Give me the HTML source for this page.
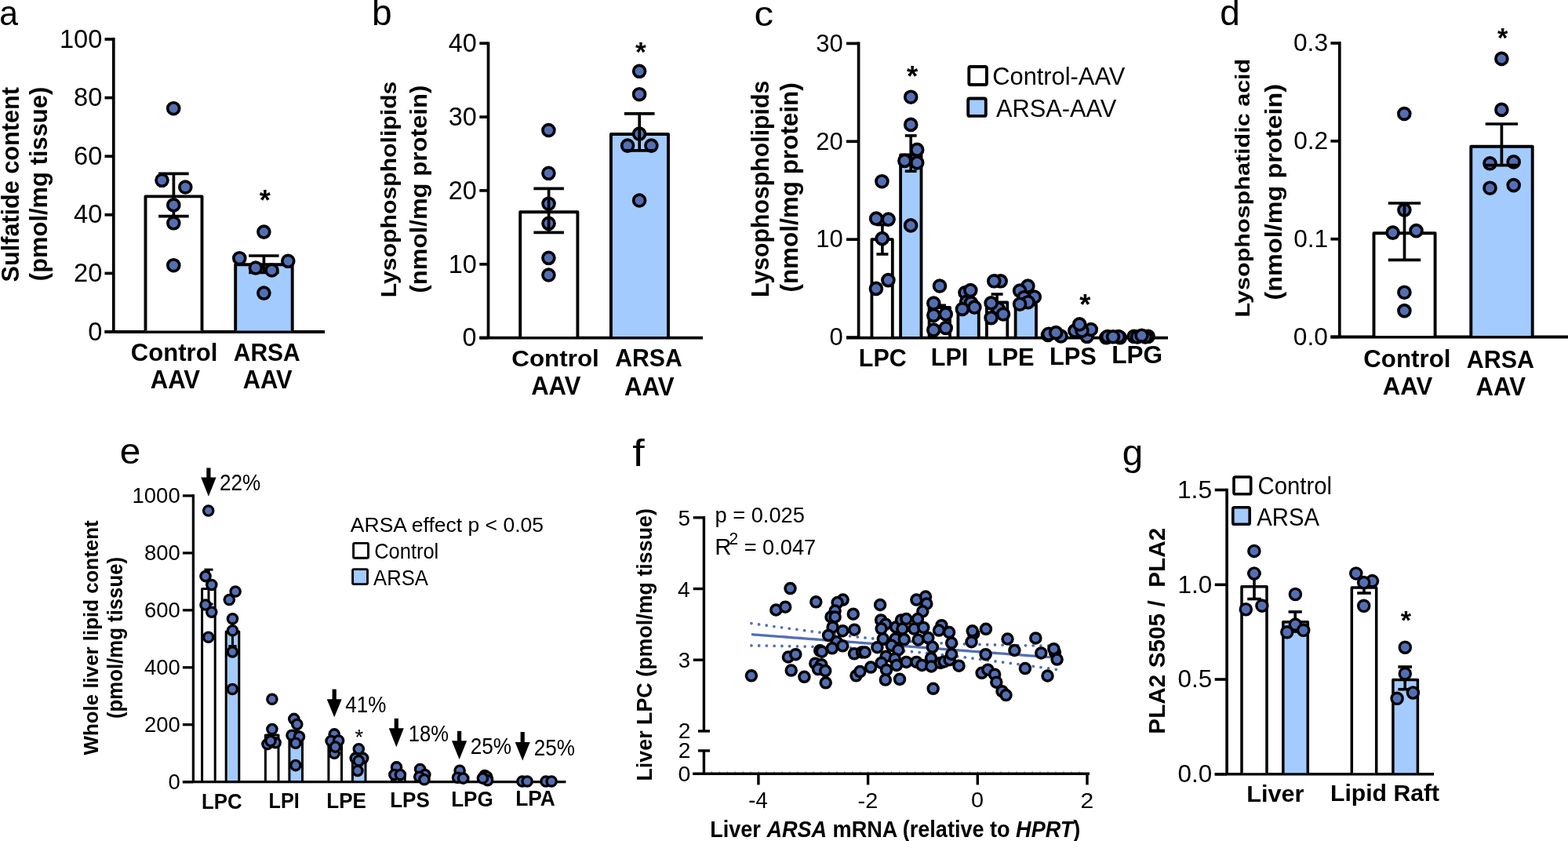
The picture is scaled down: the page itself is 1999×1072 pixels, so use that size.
<!DOCTYPE html>
<html><head><meta charset="utf-8"><title>Figure</title>
<style>
html,body{margin:0;padding:0;background:#fff;}
svg{display:block;}
text{font-family:"Liberation Sans", sans-serif;fill:#000;}
</style></head>
<body>
<svg width="1999" height="1072" viewBox="0 0 1999 1072">
<rect x="0" y="0" width="1999" height="1072" fill="#fff"/>
<text x="-0.82" y="32.25" font-size="45.27" textLength="23.77" lengthAdjust="spacingAndGlyphs">a</text>
<line x1="144.8" y1="48.1" x2="144.8" y2="423.0" stroke="#000" stroke-width="3.7" stroke-linecap="butt"/>
<line x1="133.5" y1="423.0" x2="144.8" y2="423.0" stroke="#000" stroke-width="3.7" stroke-linecap="butt"/>
<text x="112.17" y="433.67" font-size="32.68">0</text>
<line x1="133.5" y1="348.4" x2="144.8" y2="348.4" stroke="#000" stroke-width="3.7" stroke-linecap="butt"/>
<text x="94.04" y="359.07" font-size="32.68">20</text>
<line x1="133.5" y1="273.8" x2="144.8" y2="273.8" stroke="#000" stroke-width="3.7" stroke-linecap="butt"/>
<text x="94.04" y="284.47" font-size="32.68">40</text>
<line x1="133.5" y1="199.2" x2="144.8" y2="199.2" stroke="#000" stroke-width="3.7" stroke-linecap="butt"/>
<text x="94.04" y="209.87" font-size="32.68">60</text>
<line x1="133.5" y1="124.6" x2="144.8" y2="124.6" stroke="#000" stroke-width="3.7" stroke-linecap="butt"/>
<text x="94.04" y="135.27" font-size="32.68">80</text>
<line x1="133.5" y1="50.0" x2="144.8" y2="50.0" stroke="#000" stroke-width="3.7" stroke-linecap="butt"/>
<text x="75.90" y="60.67" font-size="32.68">100</text>
<line x1="133.5" y1="423.0" x2="414.0" y2="423.0" stroke="#000" stroke-width="3.8" stroke-linecap="butt"/>
<path d="M185.5,421.4 V250.4 H257.5 V421.4" fill="#fff" stroke="#000" stroke-width="3.9" stroke-linejoin="round"/>
<path d="M300.2,421.4 V337.2 H372.7 V421.4" fill="#a3cbfd" stroke="#000" stroke-width="3.9" stroke-linejoin="round"/>
<line x1="221.4" y1="221.4" x2="221.4" y2="275.6" stroke="#000" stroke-width="3.7" stroke-linecap="butt"/>
<line x1="202.1" y1="221.4" x2="240.7" y2="221.4" stroke="#000" stroke-width="3.7" stroke-linecap="butt"/>
<line x1="202.1" y1="275.6" x2="240.7" y2="275.6" stroke="#000" stroke-width="3.7" stroke-linecap="butt"/>
<line x1="336.4" y1="326.0" x2="336.4" y2="347.5" stroke="#000" stroke-width="3.7" stroke-linecap="butt"/>
<line x1="317.2" y1="326.0" x2="355.6" y2="326.0" stroke="#000" stroke-width="3.7" stroke-linecap="butt"/>
<line x1="317.2" y1="347.5" x2="355.6" y2="347.5" stroke="#000" stroke-width="3.7" stroke-linecap="butt"/>
<circle cx="221.2" cy="138.2" r="7.45" fill="#536fb4" stroke="#000" stroke-width="3.7"/>
<circle cx="206.5" cy="229.8" r="7.45" fill="#536fb4" stroke="#000" stroke-width="3.7"/>
<circle cx="236.3" cy="238.5" r="7.45" fill="#536fb4" stroke="#000" stroke-width="3.7"/>
<circle cx="221.3" cy="261.4" r="7.45" fill="#536fb4" stroke="#000" stroke-width="3.7"/>
<circle cx="221.3" cy="284.3" r="7.45" fill="#536fb4" stroke="#000" stroke-width="3.7"/>
<circle cx="221.3" cy="338.2" r="7.45" fill="#536fb4" stroke="#000" stroke-width="3.7"/>
<circle cx="336.4" cy="295.6" r="7.45" fill="#536fb4" stroke="#000" stroke-width="3.7"/>
<circle cx="305.3" cy="329.2" r="7.45" fill="#536fb4" stroke="#000" stroke-width="3.7"/>
<circle cx="367.3" cy="332.8" r="7.45" fill="#536fb4" stroke="#000" stroke-width="3.7"/>
<circle cx="325.9" cy="341.5" r="7.45" fill="#536fb4" stroke="#000" stroke-width="3.7"/>
<circle cx="346.5" cy="344.5" r="7.45" fill="#536fb4" stroke="#000" stroke-width="3.7"/>
<circle cx="336.4" cy="373.6" r="7.45" fill="#536fb4" stroke="#000" stroke-width="3.7"/>
<text x="330.85" y="267.55" font-size="36.13" font-weight="bold">*</text>
<text x="166.86" y="459.69" font-size="30.61" font-weight="bold" textLength="110.47" lengthAdjust="spacingAndGlyphs">Control</text>
<text x="191.72" y="495.00" font-size="32.61" font-weight="bold" textLength="63.30" lengthAdjust="spacingAndGlyphs">AAV</text>
<text x="297.75" y="459.68" font-size="31.69" font-weight="bold" textLength="85.01" lengthAdjust="spacingAndGlyphs">ARSA</text>
<text x="309.83" y="495.00" font-size="32.61" font-weight="bold" textLength="62.89" lengthAdjust="spacingAndGlyphs">AAV</text>
<text x="24.00" y="359.42" font-size="30.48" font-weight="bold" textLength="248.27" lengthAdjust="spacingAndGlyphs" transform="rotate(-90 24.00 359.42)">Sulfatide content</text>
<text x="60.48" y="358.15" font-size="31.98" font-weight="bold" textLength="247.36" lengthAdjust="spacingAndGlyphs" transform="rotate(-90 60.48 358.15)">(pmol/mg tissue)</text>
<text x="474.11" y="32.24" font-size="46.00">b</text>
<line x1="622.5" y1="53.4" x2="622.5" y2="430.6" stroke="#000" stroke-width="3.7" stroke-linecap="butt"/>
<line x1="611.3" y1="430.6" x2="622.5" y2="430.6" stroke="#000" stroke-width="3.7" stroke-linecap="butt"/>
<text x="589.62" y="441.48" font-size="32.39">0</text>
<line x1="611.3" y1="336.8" x2="622.5" y2="336.8" stroke="#000" stroke-width="3.7" stroke-linecap="butt"/>
<text x="571.64" y="347.63" font-size="32.39">10</text>
<line x1="611.3" y1="242.9" x2="622.5" y2="242.9" stroke="#000" stroke-width="3.7" stroke-linecap="butt"/>
<text x="571.64" y="253.78" font-size="32.39">20</text>
<line x1="611.3" y1="149.1" x2="622.5" y2="149.1" stroke="#000" stroke-width="3.7" stroke-linecap="butt"/>
<text x="571.64" y="159.93" font-size="32.39">30</text>
<line x1="611.3" y1="55.2" x2="622.5" y2="55.2" stroke="#000" stroke-width="3.7" stroke-linecap="butt"/>
<text x="571.64" y="66.08" font-size="32.39">40</text>
<line x1="611.3" y1="430.6" x2="896.0" y2="430.6" stroke="#000" stroke-width="3.8" stroke-linecap="butt"/>
<path d="M663.2,429.0 V270.3 H736.4 V429.0" fill="#fff" stroke="#000" stroke-width="3.9" stroke-linejoin="round"/>
<path d="M778.9,429.0 V171.0 H852.0 V429.0" fill="#a3cbfd" stroke="#000" stroke-width="3.9" stroke-linejoin="round"/>
<circle cx="699.4" cy="166.0" r="7.45" fill="#536fb4" stroke="#000" stroke-width="3.7"/>
<circle cx="699.4" cy="220.8" r="7.45" fill="#536fb4" stroke="#000" stroke-width="3.7"/>
<circle cx="699.5" cy="259.7" r="7.45" fill="#536fb4" stroke="#000" stroke-width="3.7"/>
<circle cx="699.5" cy="284.8" r="7.45" fill="#536fb4" stroke="#000" stroke-width="3.7"/>
<circle cx="699.4" cy="328.8" r="7.45" fill="#536fb4" stroke="#000" stroke-width="3.7"/>
<circle cx="699.4" cy="350.5" r="7.45" fill="#536fb4" stroke="#000" stroke-width="3.7"/>
<line x1="699.6" y1="240.4" x2="699.6" y2="296.4" stroke="#000" stroke-width="3.7" stroke-linecap="butt"/>
<line x1="680.4" y1="240.4" x2="718.9" y2="240.4" stroke="#000" stroke-width="3.7" stroke-linecap="butt"/>
<line x1="680.4" y1="296.4" x2="718.9" y2="296.4" stroke="#000" stroke-width="3.7" stroke-linecap="butt"/>
<circle cx="815.1" cy="90.8" r="7.45" fill="#536fb4" stroke="#000" stroke-width="3.7"/>
<circle cx="815.1" cy="120.2" r="7.45" fill="#536fb4" stroke="#000" stroke-width="3.7"/>
<circle cx="815.1" cy="170.6" r="7.45" fill="#536fb4" stroke="#000" stroke-width="3.7"/>
<circle cx="800.1" cy="185.6" r="7.45" fill="#536fb4" stroke="#000" stroke-width="3.7"/>
<circle cx="830.4" cy="185.6" r="7.45" fill="#536fb4" stroke="#000" stroke-width="3.7"/>
<circle cx="815.1" cy="255.5" r="7.45" fill="#536fb4" stroke="#000" stroke-width="3.7"/>
<line x1="815.2" y1="144.9" x2="815.2" y2="191.8" stroke="#000" stroke-width="3.7" stroke-linecap="butt"/>
<line x1="795.9" y1="144.9" x2="834.5" y2="144.9" stroke="#000" stroke-width="3.7" stroke-linecap="butt"/>
<line x1="795.9" y1="191.8" x2="834.5" y2="191.8" stroke="#000" stroke-width="3.7" stroke-linecap="butt"/>
<text x="810.01" y="78.24" font-size="35.33" font-weight="bold">*</text>
<text x="652.35" y="466.60" font-size="29.52" font-weight="bold" textLength="111.40" lengthAdjust="spacingAndGlyphs">Control</text>
<text x="677.22" y="502.70" font-size="32.90" font-weight="bold" textLength="63.20" lengthAdjust="spacingAndGlyphs">AAV</text>
<text x="784.25" y="467.28" font-size="31.83" font-weight="bold" textLength="85.52" lengthAdjust="spacingAndGlyphs">ARSA</text>
<text x="796.02" y="503.80" font-size="33.04" font-weight="bold" textLength="63.71" lengthAdjust="spacingAndGlyphs">AAV</text>
<text x="505.37" y="379.26" font-size="27.27" font-weight="bold" textLength="275.66" lengthAdjust="spacingAndGlyphs" transform="rotate(-90 505.37 379.26)">Lysophospholipids</text>
<text x="543.92" y="373.56" font-size="29.41" font-weight="bold" textLength="264.89" lengthAdjust="spacingAndGlyphs" transform="rotate(-90 543.92 373.56)">(nmol/mg protein)</text>
<text x="961.59" y="33.06" font-size="44.18" textLength="24.53" lengthAdjust="spacingAndGlyphs">c</text>
<line x1="1094.6" y1="53.5" x2="1094.6" y2="430.6" stroke="#000" stroke-width="3.7" stroke-linecap="butt"/>
<line x1="1079.0" y1="430.1" x2="1094.6" y2="430.1" stroke="#000" stroke-width="3.7" stroke-linecap="butt"/>
<text x="1057.44" y="440.39" font-size="30.99">0</text>
<line x1="1079.0" y1="305.2" x2="1094.6" y2="305.2" stroke="#000" stroke-width="3.7" stroke-linecap="butt"/>
<text x="1040.25" y="315.49" font-size="30.99">10</text>
<line x1="1079.0" y1="180.3" x2="1094.6" y2="180.3" stroke="#000" stroke-width="3.7" stroke-linecap="butt"/>
<text x="1040.25" y="190.59" font-size="30.99">20</text>
<line x1="1079.0" y1="55.4" x2="1094.6" y2="55.4" stroke="#000" stroke-width="3.7" stroke-linecap="butt"/>
<text x="1040.25" y="65.69" font-size="30.99">30</text>
<line x1="1079.0" y1="430.6" x2="1489.0" y2="430.6" stroke="#000" stroke-width="3.8" stroke-linecap="butt"/>
<path d="M1111.4,429.0 V305.2 H1137.8 V429.0" fill="#fff" stroke="#000" stroke-width="3.8" stroke-linejoin="round"/>
<path d="M1148.1,429.0 V197.5 H1174.5 V429.0" fill="#a3cbfd" stroke="#000" stroke-width="3.8" stroke-linejoin="round"/>
<path d="M1184.6,429.0 V392.0 H1211.0 V429.0" fill="#fff" stroke="#000" stroke-width="3.8" stroke-linejoin="round"/>
<path d="M1221.4,429.0 V393.0 H1247.8 V429.0" fill="#a3cbfd" stroke="#000" stroke-width="3.8" stroke-linejoin="round"/>
<path d="M1257.9,429.0 V385.5 H1284.3 V429.0" fill="#fff" stroke="#000" stroke-width="3.8" stroke-linejoin="round"/>
<path d="M1294.6,429.0 V388.0 H1321.0 V429.0" fill="#a3cbfd" stroke="#000" stroke-width="3.8" stroke-linejoin="round"/>
<path d="M1330.3,429.0 V424.5 H1356.7 V429.0" fill="#fff" stroke="#000" stroke-width="3.8" stroke-linejoin="round"/>
<path d="M1366.8,429.0 V419.0 H1393.2 V429.0" fill="#a3cbfd" stroke="#000" stroke-width="3.8" stroke-linejoin="round"/>
<path d="M1405.8,429.0 V428.0 H1432.2 V429.0" fill="#fff" stroke="#000" stroke-width="3.8" stroke-linejoin="round"/>
<path d="M1441.8,429.0 V428.0 H1468.2 V429.0" fill="#a3cbfd" stroke="#000" stroke-width="3.8" stroke-linejoin="round"/>
<line x1="1124.9" y1="286.5" x2="1124.9" y2="324.0" stroke="#000" stroke-width="3.6" stroke-linecap="butt"/>
<line x1="1117.4" y1="286.5" x2="1132.4" y2="286.5" stroke="#000" stroke-width="3.6" stroke-linecap="butt"/>
<line x1="1117.4" y1="324.0" x2="1132.4" y2="324.0" stroke="#000" stroke-width="3.6" stroke-linecap="butt"/>
<line x1="1161.2" y1="172.9" x2="1161.2" y2="218.2" stroke="#000" stroke-width="3.6" stroke-linecap="butt"/>
<line x1="1153.8" y1="172.9" x2="1168.6" y2="172.9" stroke="#000" stroke-width="3.6" stroke-linecap="butt"/>
<line x1="1153.8" y1="218.2" x2="1168.6" y2="218.2" stroke="#000" stroke-width="3.6" stroke-linecap="butt"/>
<line x1="1202.5" y1="389.3" x2="1202.5" y2="400.0" stroke="#000" stroke-width="3.6" stroke-linecap="butt"/>
<line x1="1199.0" y1="389.3" x2="1206.0" y2="389.3" stroke="#000" stroke-width="3.6" stroke-linecap="butt"/>
<line x1="1199.0" y1="400.0" x2="1206.0" y2="400.0" stroke="#000" stroke-width="3.6" stroke-linecap="butt"/>
<line x1="1271.1" y1="375.0" x2="1271.1" y2="395.0" stroke="#000" stroke-width="3.6" stroke-linecap="butt"/>
<line x1="1263.6" y1="375.0" x2="1278.6" y2="375.0" stroke="#000" stroke-width="3.6" stroke-linecap="butt"/>
<line x1="1263.6" y1="395.0" x2="1278.6" y2="395.0" stroke="#000" stroke-width="3.6" stroke-linecap="butt"/>
<circle cx="1124.4" cy="231.2" r="7.45" fill="#536fb4" stroke="#000" stroke-width="3.7"/>
<circle cx="1117.1" cy="278.6" r="7.45" fill="#536fb4" stroke="#000" stroke-width="3.7"/>
<circle cx="1132.6" cy="279.6" r="7.45" fill="#536fb4" stroke="#000" stroke-width="3.7"/>
<circle cx="1124.7" cy="304.1" r="7.45" fill="#536fb4" stroke="#000" stroke-width="3.7"/>
<circle cx="1132.4" cy="357.1" r="7.45" fill="#536fb4" stroke="#000" stroke-width="3.7"/>
<circle cx="1116.9" cy="367.9" r="7.45" fill="#536fb4" stroke="#000" stroke-width="3.7"/>
<circle cx="1161.2" cy="123.7" r="7.45" fill="#536fb4" stroke="#000" stroke-width="3.7"/>
<circle cx="1161.2" cy="158.9" r="7.45" fill="#536fb4" stroke="#000" stroke-width="3.7"/>
<circle cx="1169.2" cy="190.9" r="7.45" fill="#536fb4" stroke="#000" stroke-width="3.7"/>
<circle cx="1153.4" cy="204.9" r="7.45" fill="#536fb4" stroke="#000" stroke-width="3.7"/>
<circle cx="1169.2" cy="207.4" r="7.45" fill="#536fb4" stroke="#000" stroke-width="3.7"/>
<circle cx="1161.1" cy="287.4" r="7.45" fill="#536fb4" stroke="#000" stroke-width="3.7"/>
<circle cx="1198.0" cy="364.5" r="7.45" fill="#536fb4" stroke="#000" stroke-width="3.7"/>
<circle cx="1190.3" cy="386.5" r="7.45" fill="#536fb4" stroke="#000" stroke-width="3.7"/>
<circle cx="1190.3" cy="401.9" r="7.45" fill="#536fb4" stroke="#000" stroke-width="3.7"/>
<circle cx="1205.7" cy="400.4" r="7.45" fill="#536fb4" stroke="#000" stroke-width="3.7"/>
<circle cx="1190.3" cy="420.6" r="7.45" fill="#536fb4" stroke="#000" stroke-width="3.7"/>
<circle cx="1205.7" cy="418.0" r="7.45" fill="#536fb4" stroke="#000" stroke-width="3.7"/>
<circle cx="1230.5" cy="373.0" r="7.45" fill="#536fb4" stroke="#000" stroke-width="3.7"/>
<circle cx="1237.3" cy="370.1" r="7.45" fill="#536fb4" stroke="#000" stroke-width="3.7"/>
<circle cx="1232.1" cy="384.9" r="7.45" fill="#536fb4" stroke="#000" stroke-width="3.7"/>
<circle cx="1238.0" cy="386.0" r="7.45" fill="#536fb4" stroke="#000" stroke-width="3.7"/>
<circle cx="1226.9" cy="394.0" r="7.45" fill="#536fb4" stroke="#000" stroke-width="3.7"/>
<circle cx="1242.4" cy="391.6" r="7.45" fill="#536fb4" stroke="#000" stroke-width="3.7"/>
<circle cx="1275.7" cy="358.3" r="7.45" fill="#536fb4" stroke="#000" stroke-width="3.7"/>
<circle cx="1267.3" cy="358.3" r="7.45" fill="#536fb4" stroke="#000" stroke-width="3.7"/>
<circle cx="1272.6" cy="393.4" r="7.45" fill="#536fb4" stroke="#000" stroke-width="3.7"/>
<circle cx="1263.6" cy="386.4" r="7.45" fill="#536fb4" stroke="#000" stroke-width="3.7"/>
<circle cx="1279.0" cy="400.5" r="7.45" fill="#536fb4" stroke="#000" stroke-width="3.7"/>
<circle cx="1263.6" cy="405.2" r="7.45" fill="#536fb4" stroke="#000" stroke-width="3.7"/>
<circle cx="1310.4" cy="364.6" r="7.45" fill="#536fb4" stroke="#000" stroke-width="3.7"/>
<circle cx="1300.1" cy="370.6" r="7.45" fill="#536fb4" stroke="#000" stroke-width="3.7"/>
<circle cx="1318.8" cy="378.5" r="7.45" fill="#536fb4" stroke="#000" stroke-width="3.7"/>
<circle cx="1305.5" cy="379.0" r="7.45" fill="#536fb4" stroke="#000" stroke-width="3.7"/>
<circle cx="1310.6" cy="385.2" r="7.45" fill="#536fb4" stroke="#000" stroke-width="3.7"/>
<circle cx="1300.1" cy="387.7" r="7.45" fill="#536fb4" stroke="#000" stroke-width="3.7"/>
<circle cx="1336.0" cy="427.0" r="7.45" fill="#536fb4" stroke="#000" stroke-width="3.7"/>
<circle cx="1352.5" cy="428.5" r="7.45" fill="#536fb4" stroke="#000" stroke-width="3.7"/>
<circle cx="1337.0" cy="425.7" r="7.45" fill="#536fb4" stroke="#000" stroke-width="3.7"/>
<circle cx="1346.2" cy="424.1" r="7.45" fill="#536fb4" stroke="#000" stroke-width="3.7"/>
<circle cx="1370.3" cy="421.6" r="7.45" fill="#536fb4" stroke="#000" stroke-width="3.7"/>
<circle cx="1385.7" cy="428.8" r="7.45" fill="#536fb4" stroke="#000" stroke-width="3.7"/>
<circle cx="1390.8" cy="420.0" r="7.45" fill="#536fb4" stroke="#000" stroke-width="3.7"/>
<circle cx="1379.5" cy="421.6" r="7.45" fill="#536fb4" stroke="#000" stroke-width="3.7"/>
<circle cx="1376.2" cy="413.4" r="7.45" fill="#536fb4" stroke="#000" stroke-width="3.7"/>
<circle cx="1410.3" cy="430.3" r="7.45" fill="#536fb4" stroke="#000" stroke-width="3.7"/>
<circle cx="1427.8" cy="430.3" r="7.45" fill="#536fb4" stroke="#000" stroke-width="3.7"/>
<circle cx="1412.0" cy="429.0" r="7.45" fill="#536fb4" stroke="#000" stroke-width="3.7"/>
<circle cx="1426.0" cy="429.0" r="7.45" fill="#536fb4" stroke="#000" stroke-width="3.7"/>
<circle cx="1419.0" cy="429.3" r="7.45" fill="#536fb4" stroke="#000" stroke-width="3.7"/>
<circle cx="1445.7" cy="428.8" r="7.45" fill="#536fb4" stroke="#000" stroke-width="3.7"/>
<circle cx="1463.7" cy="428.8" r="7.45" fill="#536fb4" stroke="#000" stroke-width="3.7"/>
<circle cx="1450.0" cy="429.5" r="7.45" fill="#536fb4" stroke="#000" stroke-width="3.7"/>
<circle cx="1460.0" cy="429.5" r="7.45" fill="#536fb4" stroke="#000" stroke-width="3.7"/>
<circle cx="1455.5" cy="427.7" r="7.45" fill="#536fb4" stroke="#000" stroke-width="3.7"/>
<text x="1156.08" y="110.45" font-size="36.53" font-weight="bold">*</text>
<text x="1376.30" y="400.68" font-size="36.40" font-weight="bold">*</text>
<text x="1094.82" y="466.99" font-size="31.13" font-weight="bold" textLength="60.94" lengthAdjust="spacingAndGlyphs">LPC</text>
<text x="1186.82" y="466.20" font-size="32.17" font-weight="bold" textLength="47.49" lengthAdjust="spacingAndGlyphs">LPI</text>
<text x="1258.70" y="466.20" font-size="32.17" font-weight="bold" textLength="59.77" lengthAdjust="spacingAndGlyphs">LPE</text>
<text x="1338.00" y="464.69" font-size="31.13" font-weight="bold" textLength="59.88" lengthAdjust="spacingAndGlyphs">LPS</text>
<text x="1417.25" y="463.39" font-size="31.27" font-weight="bold" textLength="64.87" lengthAdjust="spacingAndGlyphs">LPG</text>
<rect x="1235.3" y="85.0" width="22.6" height="23.0" fill="#fff" stroke="#000" stroke-width="3.85" rx="2"/>
<rect x="1234.2" y="125.5" width="22.6" height="22.4" fill="#a3cbfd" stroke="#000" stroke-width="3.85" rx="2"/>
<text x="1265.26" y="107.69" font-size="30.75" textLength="169.01" lengthAdjust="spacingAndGlyphs">Control-AAV</text>
<text x="1269.95" y="149.48" font-size="32.11" textLength="153.31" lengthAdjust="spacingAndGlyphs">ARSA-AAV</text>
<text x="979.71" y="378.97" font-size="31.87" font-weight="bold" textLength="276.27" lengthAdjust="spacingAndGlyphs" transform="rotate(-90 979.71 378.97)">Lysophospholipids</text>
<text x="1016.61" y="372.57" font-size="30.91" font-weight="bold" textLength="267.22" lengthAdjust="spacingAndGlyphs" transform="rotate(-90 1016.61 372.57)">(nmol/mg protein)</text>
<text x="1555.16" y="32.24" font-size="46.00">d</text>
<line x1="1707.8" y1="53.1" x2="1707.8" y2="429.5" stroke="#000" stroke-width="3.7" stroke-linecap="butt"/>
<line x1="1696.4" y1="429.5" x2="1707.8" y2="429.5" stroke="#000" stroke-width="3.7" stroke-linecap="butt"/>
<text x="1648.82" y="439.68" font-size="31.69">0.0</text>
<line x1="1696.4" y1="304.7" x2="1707.8" y2="304.7" stroke="#000" stroke-width="3.7" stroke-linecap="butt"/>
<text x="1649.14" y="314.85" font-size="31.69">0.1</text>
<line x1="1696.4" y1="179.8" x2="1707.8" y2="179.8" stroke="#000" stroke-width="3.7" stroke-linecap="butt"/>
<text x="1649.14" y="190.02" font-size="31.69">0.2</text>
<line x1="1696.4" y1="55.0" x2="1707.8" y2="55.0" stroke="#000" stroke-width="3.7" stroke-linecap="butt"/>
<text x="1648.98" y="65.18" font-size="31.69">0.3</text>
<line x1="1696.4" y1="429.5" x2="1999.0" y2="429.5" stroke="#000" stroke-width="3.8" stroke-linecap="butt"/>
<path d="M1751.5,427.9 V297.3 H1829.6 V427.9" fill="#fff" stroke="#000" stroke-width="3.9" stroke-linejoin="round"/>
<path d="M1875.3,427.9 V186.7 H1953.7 V427.9" fill="#a3cbfd" stroke="#000" stroke-width="3.9" stroke-linejoin="round"/>
<circle cx="1790.3" cy="145.0" r="7.45" fill="#536fb4" stroke="#000" stroke-width="3.7"/>
<circle cx="1790.4" cy="267.6" r="7.45" fill="#536fb4" stroke="#000" stroke-width="3.7"/>
<circle cx="1775.6" cy="296.6" r="7.45" fill="#536fb4" stroke="#000" stroke-width="3.7"/>
<circle cx="1805.5" cy="294.1" r="7.45" fill="#536fb4" stroke="#000" stroke-width="3.7"/>
<circle cx="1790.4" cy="372.7" r="7.45" fill="#536fb4" stroke="#000" stroke-width="3.7"/>
<circle cx="1790.4" cy="396.1" r="7.45" fill="#536fb4" stroke="#000" stroke-width="3.7"/>
<line x1="1790.5" y1="259.0" x2="1790.5" y2="331.3" stroke="#000" stroke-width="3.7" stroke-linecap="butt"/>
<line x1="1769.8" y1="259.0" x2="1811.2" y2="259.0" stroke="#000" stroke-width="3.7" stroke-linecap="butt"/>
<line x1="1769.8" y1="331.3" x2="1811.2" y2="331.3" stroke="#000" stroke-width="3.7" stroke-linecap="butt"/>
<circle cx="1914.4" cy="74.9" r="7.45" fill="#536fb4" stroke="#000" stroke-width="3.7"/>
<circle cx="1914.4" cy="139.9" r="7.45" fill="#536fb4" stroke="#000" stroke-width="3.7"/>
<circle cx="1899.5" cy="208.3" r="7.45" fill="#536fb4" stroke="#000" stroke-width="3.7"/>
<circle cx="1929.7" cy="206.4" r="7.45" fill="#536fb4" stroke="#000" stroke-width="3.7"/>
<circle cx="1899.5" cy="239.7" r="7.45" fill="#536fb4" stroke="#000" stroke-width="3.7"/>
<circle cx="1929.7" cy="236.1" r="7.45" fill="#536fb4" stroke="#000" stroke-width="3.7"/>
<line x1="1914.4" y1="158.0" x2="1914.4" y2="210.6" stroke="#000" stroke-width="3.7" stroke-linecap="butt"/>
<line x1="1893.7" y1="158.0" x2="1935.1" y2="158.0" stroke="#000" stroke-width="3.7" stroke-linecap="butt"/>
<line x1="1893.7" y1="210.6" x2="1935.1" y2="210.6" stroke="#000" stroke-width="3.7" stroke-linecap="butt"/>
<text x="1909.12" y="60.10" font-size="34.26" font-weight="bold">*</text>
<text x="1738.25" y="467.59" font-size="31.16" font-weight="bold" textLength="111.19" lengthAdjust="spacingAndGlyphs">Control</text>
<text x="1762.72" y="503.20" font-size="32.17" font-weight="bold" textLength="63.50" lengthAdjust="spacingAndGlyphs">AAV</text>
<text x="1869.74" y="469.38" font-size="31.97" font-weight="bold" textLength="86.13" lengthAdjust="spacingAndGlyphs">ARSA</text>
<text x="1881.62" y="504.00" font-size="32.61" font-weight="bold" textLength="63.50" lengthAdjust="spacingAndGlyphs">AAV</text>
<text x="1592.96" y="404.49" font-size="25.88" font-weight="bold" textLength="329.77" lengthAdjust="spacingAndGlyphs" transform="rotate(-90 1592.96 404.49)">Lysophosphatidic acid</text>
<text x="1633.91" y="382.52" font-size="29.95" font-weight="bold" textLength="275.61" lengthAdjust="spacingAndGlyphs" transform="rotate(-90 1633.91 382.52)">(nmol/mg protein)</text>
<text x="152.85" y="591.34" font-size="46.18" textLength="26.55" lengthAdjust="spacingAndGlyphs">e</text>
<line x1="246.4" y1="630.2" x2="246.4" y2="996.7" stroke="#000" stroke-width="3.3" stroke-linecap="butt"/>
<line x1="232.9" y1="996.7" x2="246.4" y2="996.7" stroke="#000" stroke-width="3.3" stroke-linecap="butt"/>
<text x="214.46" y="1005.68" font-size="27.46">0</text>
<line x1="232.9" y1="923.7" x2="246.4" y2="923.7" stroke="#000" stroke-width="3.3" stroke-linecap="butt"/>
<text x="183.97" y="932.72" font-size="27.46">200</text>
<line x1="232.9" y1="850.8" x2="246.4" y2="850.8" stroke="#000" stroke-width="3.3" stroke-linecap="butt"/>
<text x="183.97" y="859.76" font-size="27.46">400</text>
<line x1="232.9" y1="777.8" x2="246.4" y2="777.8" stroke="#000" stroke-width="3.3" stroke-linecap="butt"/>
<text x="183.97" y="786.80" font-size="27.46">600</text>
<line x1="232.9" y1="704.9" x2="246.4" y2="704.9" stroke="#000" stroke-width="3.3" stroke-linecap="butt"/>
<text x="183.97" y="713.84" font-size="27.46">800</text>
<line x1="232.9" y1="631.9" x2="246.4" y2="631.9" stroke="#000" stroke-width="3.3" stroke-linecap="butt"/>
<text x="168.59" y="640.88" font-size="27.46">1000</text>
<line x1="232.9" y1="996.7" x2="721.4" y2="996.7" stroke="#000" stroke-width="3.3" stroke-linecap="butt"/>
<path d="M257.6,995.1 V750.5 H274.2 V995.1" fill="#fff" stroke="#000" stroke-width="3.0" stroke-linejoin="round"/>
<path d="M288.2,995.1 V805.0 H304.8 V995.1" fill="#a3cbfd" stroke="#000" stroke-width="3.0" stroke-linejoin="round"/>
<path d="M338.4,995.1 V937.0 H355.0 V995.1" fill="#fff" stroke="#000" stroke-width="3.0" stroke-linejoin="round"/>
<path d="M368.9,995.1 V940.0 H385.5 V995.1" fill="#a3cbfd" stroke="#000" stroke-width="3.0" stroke-linejoin="round"/>
<path d="M418.9,995.1 V946.5 H435.5 V995.1" fill="#fff" stroke="#000" stroke-width="3.0" stroke-linejoin="round"/>
<path d="M449.4,995.1 V968.5 H466.0 V995.1" fill="#a3cbfd" stroke="#000" stroke-width="3.0" stroke-linejoin="round"/>
<path d="M499.6,995.1 V988.0 H516.2 V995.1" fill="#fff" stroke="#000" stroke-width="3.0" stroke-linejoin="round"/>
<path d="M530.2,995.1 V989.0 H546.8 V995.1" fill="#a3cbfd" stroke="#000" stroke-width="3.0" stroke-linejoin="round"/>
<path d="M580.3,995.1 V990.0 H596.9 V995.1" fill="#fff" stroke="#000" stroke-width="3.0" stroke-linejoin="round"/>
<path d="M610.9,995.1 V991.0 H627.5 V995.1" fill="#a3cbfd" stroke="#000" stroke-width="3.0" stroke-linejoin="round"/>
<path d="M661.0,995.1 V995.0 H677.6 V995.1" fill="#fff" stroke="#000" stroke-width="3.0" stroke-linejoin="round"/>
<path d="M691.6,995.1 V995.5 H708.2 V995.1" fill="#a3cbfd" stroke="#000" stroke-width="3.0" stroke-linejoin="round"/>
<line x1="266.0" y1="726.1" x2="266.0" y2="770.0" stroke="#000" stroke-width="3.0" stroke-linecap="butt"/>
<line x1="260.5" y1="726.1" x2="271.5" y2="726.1" stroke="#000" stroke-width="3.0" stroke-linecap="butt"/>
<line x1="260.5" y1="770.0" x2="271.5" y2="770.0" stroke="#000" stroke-width="3.0" stroke-linecap="butt"/>
<line x1="296.5" y1="790.0" x2="296.5" y2="823.6" stroke="#000" stroke-width="3.0" stroke-linecap="butt"/>
<line x1="291.3" y1="790.0" x2="301.7" y2="790.0" stroke="#000" stroke-width="3.0" stroke-linecap="butt"/>
<line x1="291.3" y1="823.6" x2="301.7" y2="823.6" stroke="#000" stroke-width="3.0" stroke-linecap="butt"/>
<line x1="346.7" y1="930.0" x2="346.7" y2="945.0" stroke="#000" stroke-width="3.0" stroke-linecap="butt"/>
<line x1="341.7" y1="930.0" x2="351.7" y2="930.0" stroke="#000" stroke-width="3.0" stroke-linecap="butt"/>
<line x1="341.7" y1="945.0" x2="351.7" y2="945.0" stroke="#000" stroke-width="3.0" stroke-linecap="butt"/>
<line x1="377.2" y1="932.0" x2="377.2" y2="948.0" stroke="#000" stroke-width="3.0" stroke-linecap="butt"/>
<line x1="372.2" y1="932.0" x2="382.2" y2="932.0" stroke="#000" stroke-width="3.0" stroke-linecap="butt"/>
<line x1="372.2" y1="948.0" x2="382.2" y2="948.0" stroke="#000" stroke-width="3.0" stroke-linecap="butt"/>
<line x1="427.2" y1="937.0" x2="427.2" y2="956.0" stroke="#000" stroke-width="3.0" stroke-linecap="butt"/>
<line x1="422.2" y1="937.0" x2="432.2" y2="937.0" stroke="#000" stroke-width="3.0" stroke-linecap="butt"/>
<line x1="422.2" y1="956.0" x2="432.2" y2="956.0" stroke="#000" stroke-width="3.0" stroke-linecap="butt"/>
<line x1="457.7" y1="962.0" x2="457.7" y2="975.0" stroke="#000" stroke-width="3.0" stroke-linecap="butt"/>
<line x1="452.7" y1="962.0" x2="462.7" y2="962.0" stroke="#000" stroke-width="3.0" stroke-linecap="butt"/>
<line x1="452.7" y1="975.0" x2="462.7" y2="975.0" stroke="#000" stroke-width="3.0" stroke-linecap="butt"/>
<circle cx="265.7" cy="651.0" r="6.15" fill="#536fb4" stroke="#000" stroke-width="3.3"/>
<circle cx="262.0" cy="734.6" r="6.15" fill="#536fb4" stroke="#000" stroke-width="3.3"/>
<circle cx="269.8" cy="745.5" r="6.15" fill="#536fb4" stroke="#000" stroke-width="3.3"/>
<circle cx="262.0" cy="771.0" r="6.15" fill="#536fb4" stroke="#000" stroke-width="3.3"/>
<circle cx="269.8" cy="780.2" r="6.15" fill="#536fb4" stroke="#000" stroke-width="3.3"/>
<circle cx="265.7" cy="812.2" r="6.15" fill="#536fb4" stroke="#000" stroke-width="3.3"/>
<circle cx="300.1" cy="754.0" r="6.15" fill="#536fb4" stroke="#000" stroke-width="3.3"/>
<circle cx="292.3" cy="764.5" r="6.15" fill="#536fb4" stroke="#000" stroke-width="3.3"/>
<circle cx="296.5" cy="788.7" r="6.15" fill="#536fb4" stroke="#000" stroke-width="3.3"/>
<circle cx="296.5" cy="803.8" r="6.15" fill="#536fb4" stroke="#000" stroke-width="3.3"/>
<circle cx="296.3" cy="830.9" r="6.15" fill="#536fb4" stroke="#000" stroke-width="3.3"/>
<circle cx="296.3" cy="878.5" r="6.15" fill="#536fb4" stroke="#000" stroke-width="3.3"/>
<circle cx="346.9" cy="891.2" r="6.15" fill="#536fb4" stroke="#000" stroke-width="3.3"/>
<circle cx="346.9" cy="929.6" r="6.15" fill="#536fb4" stroke="#000" stroke-width="3.3"/>
<circle cx="340.9" cy="948.6" r="6.15" fill="#536fb4" stroke="#000" stroke-width="3.3"/>
<circle cx="351.2" cy="946.7" r="6.15" fill="#536fb4" stroke="#000" stroke-width="3.3"/>
<circle cx="345.0" cy="944.5" r="6.15" fill="#536fb4" stroke="#000" stroke-width="3.3"/>
<circle cx="374.8" cy="916.4" r="6.15" fill="#536fb4" stroke="#000" stroke-width="3.3"/>
<circle cx="378.8" cy="923.2" r="6.15" fill="#536fb4" stroke="#000" stroke-width="3.3"/>
<circle cx="372.0" cy="937.2" r="6.15" fill="#536fb4" stroke="#000" stroke-width="3.3"/>
<circle cx="381.5" cy="939.1" r="6.15" fill="#536fb4" stroke="#000" stroke-width="3.3"/>
<circle cx="376.9" cy="947.2" r="6.15" fill="#536fb4" stroke="#000" stroke-width="3.3"/>
<circle cx="376.9" cy="975.6" r="6.15" fill="#536fb4" stroke="#000" stroke-width="3.3"/>
<circle cx="426.2" cy="935.9" r="6.15" fill="#536fb4" stroke="#000" stroke-width="3.3"/>
<circle cx="422.1" cy="944.5" r="6.15" fill="#536fb4" stroke="#000" stroke-width="3.3"/>
<circle cx="431.6" cy="944.0" r="6.15" fill="#536fb4" stroke="#000" stroke-width="3.3"/>
<circle cx="426.2" cy="960.2" r="6.15" fill="#536fb4" stroke="#000" stroke-width="3.3"/>
<circle cx="427.5" cy="952.1" r="6.15" fill="#536fb4" stroke="#000" stroke-width="3.3"/>
<circle cx="457.3" cy="954.8" r="6.15" fill="#536fb4" stroke="#000" stroke-width="3.3"/>
<circle cx="453.2" cy="966.4" r="6.15" fill="#536fb4" stroke="#000" stroke-width="3.3"/>
<circle cx="462.7" cy="966.4" r="6.15" fill="#536fb4" stroke="#000" stroke-width="3.3"/>
<circle cx="457.3" cy="969.7" r="6.15" fill="#536fb4" stroke="#000" stroke-width="3.3"/>
<circle cx="455.9" cy="982.4" r="6.15" fill="#536fb4" stroke="#000" stroke-width="3.3"/>
<circle cx="505.5" cy="977.9" r="6.15" fill="#536fb4" stroke="#000" stroke-width="3.3"/>
<circle cx="502.8" cy="987.6" r="6.15" fill="#536fb4" stroke="#000" stroke-width="3.3"/>
<circle cx="510.4" cy="987.6" r="6.15" fill="#536fb4" stroke="#000" stroke-width="3.3"/>
<circle cx="535.6" cy="980.5" r="6.15" fill="#536fb4" stroke="#000" stroke-width="3.3"/>
<circle cx="541.8" cy="987.6" r="6.15" fill="#536fb4" stroke="#000" stroke-width="3.3"/>
<circle cx="534.7" cy="990.3" r="6.15" fill="#536fb4" stroke="#000" stroke-width="3.3"/>
<circle cx="540.9" cy="993.8" r="6.15" fill="#536fb4" stroke="#000" stroke-width="3.3"/>
<circle cx="586.1" cy="982.3" r="6.15" fill="#536fb4" stroke="#000" stroke-width="3.3"/>
<circle cx="583.5" cy="991.2" r="6.15" fill="#536fb4" stroke="#000" stroke-width="3.3"/>
<circle cx="590.5" cy="992.1" r="6.15" fill="#536fb4" stroke="#000" stroke-width="3.3"/>
<circle cx="618.0" cy="988.5" r="6.15" fill="#536fb4" stroke="#000" stroke-width="3.3"/>
<circle cx="620.7" cy="990.3" r="6.15" fill="#536fb4" stroke="#000" stroke-width="3.3"/>
<circle cx="621.6" cy="994.7" r="6.15" fill="#536fb4" stroke="#000" stroke-width="3.3"/>
<circle cx="615.4" cy="992.1" r="6.15" fill="#536fb4" stroke="#000" stroke-width="3.3"/>
<circle cx="665.9" cy="996.0" r="6.15" fill="#536fb4" stroke="#000" stroke-width="3.3"/>
<circle cx="672.1" cy="996.0" r="6.15" fill="#536fb4" stroke="#000" stroke-width="3.3"/>
<circle cx="696.0" cy="996.0" r="6.15" fill="#536fb4" stroke="#000" stroke-width="3.3"/>
<circle cx="703.1" cy="996.0" r="6.15" fill="#536fb4" stroke="#000" stroke-width="3.3"/>
<text x="452.58" y="948.60" font-size="27.29">*</text>
<line x1="265.9" y1="596.4" x2="265.9" y2="609.5" stroke="#000" stroke-width="5.2" stroke-linecap="butt"/>
<polygon points="256.2,608.5 275.6,608.5 265.9,632.8" fill="#000"/>
<line x1="426.2" y1="878.5" x2="426.2" y2="892.2" stroke="#000" stroke-width="5.2" stroke-linecap="butt"/>
<polygon points="416.7,891.2 435.7,891.2 426.2,914.2" fill="#000"/>
<line x1="505.3" y1="915.8" x2="505.3" y2="929.3" stroke="#000" stroke-width="5.2" stroke-linecap="butt"/>
<polygon points="495.8,928.3 514.8,928.3 505.3,952.2" fill="#000"/>
<line x1="585.6" y1="931.8" x2="585.6" y2="945.2" stroke="#000" stroke-width="5.2" stroke-linecap="butt"/>
<polygon points="576.0,944.2 595.2,944.2 585.6,968.1" fill="#000"/>
<line x1="666.2" y1="933.0" x2="666.2" y2="947.0" stroke="#000" stroke-width="5.2" stroke-linecap="butt"/>
<polygon points="656.7,946.0 675.7,946.0 666.2,969.6" fill="#000"/>
<text x="280.09" y="624.75" font-size="29.65" textLength="52.26" lengthAdjust="spacingAndGlyphs">22%</text>
<text x="440.35" y="907.65" font-size="29.29" textLength="52.10" lengthAdjust="spacingAndGlyphs">41%</text>
<text x="520.78" y="944.81" font-size="28.59" textLength="51.15" lengthAdjust="spacingAndGlyphs">18%</text>
<text x="599.69" y="960.81" font-size="29.15" textLength="52.47" lengthAdjust="spacingAndGlyphs">25%</text>
<text x="680.69" y="962.51" font-size="28.87" textLength="52.26" lengthAdjust="spacingAndGlyphs">25%</text>
<text x="257.07" y="1030.92" font-size="27.61" font-weight="bold" textLength="51.57" lengthAdjust="spacingAndGlyphs">LPC</text>
<text x="342.56" y="1030.00" font-size="27.68" font-weight="bold" textLength="39.19" lengthAdjust="spacingAndGlyphs">LPI</text>
<text x="416.36" y="1030.00" font-size="27.68" font-weight="bold" textLength="50.55" lengthAdjust="spacingAndGlyphs">LPE</text>
<text x="497.21" y="1029.02" font-size="27.96" font-weight="bold" textLength="50.60" lengthAdjust="spacingAndGlyphs">LPS</text>
<text x="575.21" y="1027.62" font-size="27.61" font-weight="bold" textLength="53.47" lengthAdjust="spacingAndGlyphs">LPG</text>
<text x="657.19" y="1027.10" font-size="28.12" font-weight="bold" textLength="50.59" lengthAdjust="spacingAndGlyphs">LPA</text>
<text x="446.87" y="678.10" font-size="26.20" textLength="246.09" lengthAdjust="spacingAndGlyphs">ARSA effect p &lt; 0.05</text>
<rect x="450.6" y="692.4" width="18.9" height="18.9" fill="#fff" stroke="#000" stroke-width="2.9" rx="1.5"/>
<rect x="449.6" y="725.6" width="18.9" height="19.0" fill="#a3cbfd" stroke="#000" stroke-width="2.9" rx="1.5"/>
<text x="477.23" y="711.53" font-size="27.07" textLength="82.02" lengthAdjust="spacingAndGlyphs">Control</text>
<text x="476.07" y="746.13" font-size="26.76" textLength="69.81" lengthAdjust="spacingAndGlyphs">ARSA</text>
<text x="124.81" y="962.40" font-size="25.67" font-weight="bold" textLength="298.99" lengthAdjust="spacingAndGlyphs" transform="rotate(-90 124.81 962.40)">Whole liver lipid content</text>
<text x="156.36" y="915.99" font-size="26.84" font-weight="bold" textLength="206.06" lengthAdjust="spacingAndGlyphs" transform="rotate(-90 156.36 915.99)">(pmol/mg tissue)</text>
<text x="806.27" y="593.70" font-size="47.31" textLength="15.41" lengthAdjust="spacingAndGlyphs">f</text>
<line x1="897.4" y1="658.1" x2="897.4" y2="931.9" stroke="#000" stroke-width="3.4" stroke-linecap="butt"/>
<line x1="890.0" y1="931.9" x2="905.0" y2="931.9" stroke="#000" stroke-width="3.4" stroke-linecap="butt"/>
<line x1="890.0" y1="956.9" x2="905.0" y2="956.9" stroke="#000" stroke-width="3.4" stroke-linecap="butt"/>
<line x1="897.4" y1="956.9" x2="897.4" y2="986.3" stroke="#000" stroke-width="3.4" stroke-linecap="butt"/>
<line x1="883.7" y1="659.8" x2="897.4" y2="659.8" stroke="#000" stroke-width="3.4" stroke-linecap="butt"/>
<text x="864.45" y="669.62" font-size="27.86">5</text>
<line x1="883.7" y1="750.5" x2="897.4" y2="750.5" stroke="#000" stroke-width="3.4" stroke-linecap="butt"/>
<text x="863.96" y="760.60" font-size="28.26">4</text>
<line x1="883.7" y1="841.2" x2="897.4" y2="841.2" stroke="#000" stroke-width="3.4" stroke-linecap="butt"/>
<text x="864.79" y="851.03" font-size="27.46">3</text>
<text x="864.79" y="941.00" font-size="28.14">2</text>
<text x="864.79" y="965.80" font-size="28.14">2</text>
<text x="864.55" y="996.02" font-size="28.45">0</text>
<line x1="883.1" y1="986.3" x2="1389.0" y2="986.3" stroke="#000" stroke-width="3.4" stroke-linecap="butt"/>
<line x1="966.9" y1="986.3" x2="966.9" y2="1000.4" stroke="#000" stroke-width="3.4" stroke-linecap="butt"/>
<text x="954.37" y="1029.50" font-size="28.99" textLength="24.33" lengthAdjust="spacingAndGlyphs">-4</text>
<line x1="1106.6" y1="986.3" x2="1106.6" y2="1000.4" stroke="#000" stroke-width="3.4" stroke-linecap="butt"/>
<text x="1093.60" y="1029.50" font-size="28.00" textLength="25.73" lengthAdjust="spacingAndGlyphs">-2</text>
<line x1="1246.3" y1="986.3" x2="1246.3" y2="1000.4" stroke="#000" stroke-width="3.4" stroke-linecap="butt"/>
<text x="1238.05" y="1029.42" font-size="28.45" textLength="16.04" lengthAdjust="spacingAndGlyphs">0</text>
<line x1="1386.0" y1="986.3" x2="1386.0" y2="1000.4" stroke="#000" stroke-width="3.4" stroke-linecap="butt"/>
<text x="1377.49" y="1029.50" font-size="28.29" textLength="16.75" lengthAdjust="spacingAndGlyphs">2</text>
<line x1="907.3" y1="985.0" x2="907.3" y2="983.6" stroke="#555" stroke-width="1.2" stroke-linecap="butt"/>
<line x1="917.2" y1="985.0" x2="917.2" y2="983.6" stroke="#555" stroke-width="1.2" stroke-linecap="butt"/>
<line x1="927.2" y1="985.0" x2="927.2" y2="983.6" stroke="#555" stroke-width="1.2" stroke-linecap="butt"/>
<line x1="937.2" y1="985.0" x2="937.2" y2="983.6" stroke="#555" stroke-width="1.2" stroke-linecap="butt"/>
<line x1="947.2" y1="985.0" x2="947.2" y2="983.6" stroke="#555" stroke-width="1.2" stroke-linecap="butt"/>
<line x1="957.1" y1="985.0" x2="957.1" y2="983.6" stroke="#555" stroke-width="1.2" stroke-linecap="butt"/>
<line x1="967.1" y1="985.0" x2="967.1" y2="983.6" stroke="#555" stroke-width="1.2" stroke-linecap="butt"/>
<line x1="977.1" y1="985.0" x2="977.1" y2="983.6" stroke="#555" stroke-width="1.2" stroke-linecap="butt"/>
<line x1="987.0" y1="985.0" x2="987.0" y2="983.6" stroke="#555" stroke-width="1.2" stroke-linecap="butt"/>
<line x1="997.0" y1="985.0" x2="997.0" y2="983.6" stroke="#555" stroke-width="1.2" stroke-linecap="butt"/>
<line x1="1007.0" y1="985.0" x2="1007.0" y2="983.6" stroke="#555" stroke-width="1.2" stroke-linecap="butt"/>
<line x1="1017.0" y1="985.0" x2="1017.0" y2="983.6" stroke="#555" stroke-width="1.2" stroke-linecap="butt"/>
<line x1="1026.9" y1="985.0" x2="1026.9" y2="983.6" stroke="#555" stroke-width="1.2" stroke-linecap="butt"/>
<line x1="1036.9" y1="985.0" x2="1036.9" y2="983.6" stroke="#555" stroke-width="1.2" stroke-linecap="butt"/>
<line x1="1046.9" y1="985.0" x2="1046.9" y2="983.6" stroke="#555" stroke-width="1.2" stroke-linecap="butt"/>
<line x1="1056.8" y1="985.0" x2="1056.8" y2="983.6" stroke="#555" stroke-width="1.2" stroke-linecap="butt"/>
<line x1="1066.8" y1="985.0" x2="1066.8" y2="983.6" stroke="#555" stroke-width="1.2" stroke-linecap="butt"/>
<line x1="1076.8" y1="985.0" x2="1076.8" y2="983.6" stroke="#555" stroke-width="1.2" stroke-linecap="butt"/>
<line x1="1086.7" y1="985.0" x2="1086.7" y2="983.6" stroke="#555" stroke-width="1.2" stroke-linecap="butt"/>
<line x1="1096.7" y1="985.0" x2="1096.7" y2="983.6" stroke="#555" stroke-width="1.2" stroke-linecap="butt"/>
<line x1="1106.7" y1="985.0" x2="1106.7" y2="983.6" stroke="#555" stroke-width="1.2" stroke-linecap="butt"/>
<line x1="1116.7" y1="985.0" x2="1116.7" y2="983.6" stroke="#555" stroke-width="1.2" stroke-linecap="butt"/>
<line x1="1126.6" y1="985.0" x2="1126.6" y2="983.6" stroke="#555" stroke-width="1.2" stroke-linecap="butt"/>
<line x1="1136.6" y1="985.0" x2="1136.6" y2="983.6" stroke="#555" stroke-width="1.2" stroke-linecap="butt"/>
<line x1="1146.6" y1="985.0" x2="1146.6" y2="983.6" stroke="#555" stroke-width="1.2" stroke-linecap="butt"/>
<line x1="1156.5" y1="985.0" x2="1156.5" y2="983.6" stroke="#555" stroke-width="1.2" stroke-linecap="butt"/>
<line x1="1166.5" y1="985.0" x2="1166.5" y2="983.6" stroke="#555" stroke-width="1.2" stroke-linecap="butt"/>
<line x1="1176.5" y1="985.0" x2="1176.5" y2="983.6" stroke="#555" stroke-width="1.2" stroke-linecap="butt"/>
<line x1="1186.4" y1="985.0" x2="1186.4" y2="983.6" stroke="#555" stroke-width="1.2" stroke-linecap="butt"/>
<line x1="1196.4" y1="985.0" x2="1196.4" y2="983.6" stroke="#555" stroke-width="1.2" stroke-linecap="butt"/>
<line x1="1206.4" y1="985.0" x2="1206.4" y2="983.6" stroke="#555" stroke-width="1.2" stroke-linecap="butt"/>
<line x1="1216.4" y1="985.0" x2="1216.4" y2="983.6" stroke="#555" stroke-width="1.2" stroke-linecap="butt"/>
<line x1="1226.3" y1="985.0" x2="1226.3" y2="983.6" stroke="#555" stroke-width="1.2" stroke-linecap="butt"/>
<line x1="1236.3" y1="985.0" x2="1236.3" y2="983.6" stroke="#555" stroke-width="1.2" stroke-linecap="butt"/>
<line x1="1246.3" y1="985.0" x2="1246.3" y2="983.6" stroke="#555" stroke-width="1.2" stroke-linecap="butt"/>
<line x1="1256.2" y1="985.0" x2="1256.2" y2="983.6" stroke="#555" stroke-width="1.2" stroke-linecap="butt"/>
<line x1="1266.2" y1="985.0" x2="1266.2" y2="983.6" stroke="#555" stroke-width="1.2" stroke-linecap="butt"/>
<line x1="1276.2" y1="985.0" x2="1276.2" y2="983.6" stroke="#555" stroke-width="1.2" stroke-linecap="butt"/>
<line x1="1286.1" y1="985.0" x2="1286.1" y2="983.6" stroke="#555" stroke-width="1.2" stroke-linecap="butt"/>
<line x1="1296.1" y1="985.0" x2="1296.1" y2="983.6" stroke="#555" stroke-width="1.2" stroke-linecap="butt"/>
<line x1="1306.1" y1="985.0" x2="1306.1" y2="983.6" stroke="#555" stroke-width="1.2" stroke-linecap="butt"/>
<line x1="1316.1" y1="985.0" x2="1316.1" y2="983.6" stroke="#555" stroke-width="1.2" stroke-linecap="butt"/>
<line x1="1326.0" y1="985.0" x2="1326.0" y2="983.6" stroke="#555" stroke-width="1.2" stroke-linecap="butt"/>
<line x1="1336.0" y1="985.0" x2="1336.0" y2="983.6" stroke="#555" stroke-width="1.2" stroke-linecap="butt"/>
<line x1="1346.0" y1="985.0" x2="1346.0" y2="983.6" stroke="#555" stroke-width="1.2" stroke-linecap="butt"/>
<line x1="1355.9" y1="985.0" x2="1355.9" y2="983.6" stroke="#555" stroke-width="1.2" stroke-linecap="butt"/>
<line x1="1365.9" y1="985.0" x2="1365.9" y2="983.6" stroke="#555" stroke-width="1.2" stroke-linecap="butt"/>
<line x1="1375.9" y1="985.0" x2="1375.9" y2="983.6" stroke="#555" stroke-width="1.2" stroke-linecap="butt"/>
<text x="905.24" y="1066.8" font-size="28.70" font-weight="bold" textLength="472.06" lengthAdjust="spacingAndGlyphs">Liver <tspan font-style="italic">ARSA</tspan> mRNA (relative to <tspan font-style="italic">HPRT</tspan>)</text>
<text x="831.24" y="995.54" font-size="27.91" font-weight="bold" textLength="347.49" lengthAdjust="spacingAndGlyphs" transform="rotate(-90 831.24 995.54)">Liver LPC (pmol/mg tissue)</text>
<text x="911.43" y="666.00" font-size="27.64" textLength="114.45" lengthAdjust="spacingAndGlyphs">p = 0.025</text>
<text x="911.15" y="707.30" font-size="28.70" textLength="21.24" lengthAdjust="spacingAndGlyphs">R</text>
<text x="929.56" y="694.40" font-size="21.43" textLength="11.61" lengthAdjust="spacingAndGlyphs">2</text>
<text x="948.64" y="707.02" font-size="28.31" textLength="91.60" lengthAdjust="spacingAndGlyphs">= 0.047</text>
<polyline points="957.9,808.7 962.8,809.1 967.6,809.4 972.5,809.8 977.4,810.2 982.2,810.6 987.1,810.9 992.0,811.3 996.9,811.7 1001.7,812.0 1006.6,812.4 1011.5,812.8 1016.3,813.2 1021.2,813.5 1026.1,813.9 1031.0,814.3 1035.8,814.6 1040.7,815.0 1045.6,815.4 1050.4,815.8 1055.3,816.1 1060.2,816.5 1065.0,816.9 1069.9,817.2 1074.8,817.6 1079.7,818.0 1084.5,818.4 1089.4,818.7 1094.3,819.1 1099.1,819.5 1104.0,819.8 1108.9,820.2 1113.7,820.6 1118.6,821.0 1123.5,821.3 1128.3,821.7 1133.2,822.1 1138.1,822.4 1143.0,822.8 1147.8,823.2 1152.7,823.6 1157.6,823.9 1162.4,824.3 1167.3,824.7 1172.2,825.0 1177.0,825.4 1181.9,825.8 1186.8,826.2 1191.7,826.5 1196.5,826.9 1201.4,827.3 1206.3,827.7 1211.1,828.0 1216.0,828.4 1220.9,828.8 1225.8,829.1 1230.6,829.5 1235.5,829.9 1240.4,830.3 1245.2,830.6 1250.1,831.0 1255.0,831.4 1259.8,831.7 1264.7,832.1 1269.6,832.5 1274.5,832.9 1279.3,833.2 1284.2,833.6 1289.1,834.0 1293.9,834.3 1298.8,834.7 1303.7,835.1 1308.5,835.5 1313.4,835.8 1318.3,836.2 1323.2,836.6 1328.0,836.9 1332.9,837.3 1337.8,837.7 1342.6,838.1 1347.5,838.4" fill="none" stroke="#536fb4" stroke-width="3.3"/>
<polyline points="957.9,794.6 962.8,795.3 967.6,795.9 972.5,796.6 977.4,797.2 982.2,797.9 987.1,798.6 992.0,799.2 996.9,799.9 1001.7,800.5 1006.6,801.2 1011.5,801.8 1016.3,802.4 1021.2,803.1 1026.1,803.7 1031.0,804.3 1035.8,805.0 1040.7,805.6 1045.6,806.2 1050.4,806.8 1055.3,807.4 1060.2,808.0 1065.0,808.6 1069.9,809.2 1074.8,809.8 1079.7,810.3 1084.5,810.9 1089.4,811.4 1094.3,812.0 1099.1,812.5 1104.0,813.0 1108.9,813.5 1113.7,814.0 1118.6,814.4 1123.5,814.9 1128.3,815.3 1133.2,815.8 1138.1,816.2 1143.0,816.5 1147.8,816.9 1152.7,817.3 1157.6,817.6 1162.4,817.9 1167.3,818.2 1172.2,818.5 1177.0,818.8 1181.9,819.0 1186.8,819.3 1191.7,819.5 1196.5,819.7 1201.4,819.9 1206.3,820.1 1211.1,820.3 1216.0,820.5 1220.9,820.7 1225.8,820.8 1230.6,821.0 1235.5,821.1 1240.4,821.3 1245.2,821.4 1250.1,821.5 1255.0,821.6 1259.8,821.8 1264.7,821.9 1269.6,822.0 1274.5,822.1 1279.3,822.2 1284.2,822.3 1289.1,822.4 1293.9,822.5 1298.8,822.6 1303.7,822.7 1308.5,822.8 1313.4,822.8 1318.3,822.9 1323.2,823.0 1328.0,823.1 1332.9,823.2 1337.8,823.2 1342.6,823.3 1347.5,823.4" fill="none" stroke="#536fb4" stroke-width="3.8" stroke-linecap="round" stroke-dasharray="0 9.75"/>
<polyline points="957.9,822.8 962.8,822.9 967.6,823.0 972.5,823.0 977.4,823.1 982.2,823.2 987.1,823.3 992.0,823.4 996.9,823.5 1001.7,823.6 1006.6,823.7 1011.5,823.8 1016.3,823.9 1021.2,824.0 1026.1,824.1 1031.0,824.2 1035.8,824.3 1040.7,824.4 1045.6,824.6 1050.4,824.7 1055.3,824.9 1060.2,825.0 1065.0,825.2 1069.9,825.3 1074.8,825.5 1079.7,825.7 1084.5,825.8 1089.4,826.0 1094.3,826.3 1099.1,826.5 1104.0,826.7 1108.9,826.9 1113.7,827.2 1118.6,827.5 1123.5,827.8 1128.3,828.1 1133.2,828.4 1138.1,828.7 1143.0,829.1 1147.8,829.5 1152.7,829.9 1157.6,830.3 1162.4,830.7 1167.3,831.1 1172.2,831.6 1177.0,832.1 1181.9,832.5 1186.8,833.0 1191.7,833.6 1196.5,834.1 1201.4,834.6 1206.3,835.2 1211.1,835.7 1216.0,836.3 1220.9,836.9 1225.8,837.4 1230.6,838.0 1235.5,838.6 1240.4,839.2 1245.2,839.9 1250.1,840.5 1255.0,841.1 1259.8,841.7 1264.7,842.3 1269.6,843.0 1274.5,843.6 1279.3,844.3 1284.2,844.9 1289.1,845.5 1293.9,846.2 1298.8,846.8 1303.7,847.5 1308.5,848.2 1313.4,848.8 1318.3,849.5 1323.2,850.1 1328.0,850.8 1332.9,851.5 1337.8,852.1 1342.6,852.8 1347.5,853.5" fill="none" stroke="#536fb4" stroke-width="3.8" stroke-linecap="round" stroke-dasharray="0 9.75"/>
<circle cx="1007.5" cy="750.1" r="6.5" fill="#536fb4" stroke="#000" stroke-width="3.5"/>
<circle cx="989.3" cy="777.5" r="6.5" fill="#536fb4" stroke="#000" stroke-width="3.5"/>
<circle cx="1001.2" cy="773.7" r="6.5" fill="#536fb4" stroke="#000" stroke-width="3.5"/>
<circle cx="1040.3" cy="767.3" r="6.5" fill="#536fb4" stroke="#000" stroke-width="3.5"/>
<circle cx="1074.6" cy="764.6" r="6.5" fill="#536fb4" stroke="#000" stroke-width="3.5"/>
<circle cx="1067.6" cy="768.1" r="6.5" fill="#536fb4" stroke="#000" stroke-width="3.5"/>
<circle cx="1064.6" cy="778.5" r="6.5" fill="#536fb4" stroke="#000" stroke-width="3.5"/>
<circle cx="1059.5" cy="786.4" r="6.5" fill="#536fb4" stroke="#000" stroke-width="3.5"/>
<circle cx="1064.6" cy="786.4" r="6.5" fill="#536fb4" stroke="#000" stroke-width="3.5"/>
<circle cx="1087.8" cy="782.7" r="6.5" fill="#536fb4" stroke="#000" stroke-width="3.5"/>
<circle cx="1061.6" cy="799.4" r="6.5" fill="#536fb4" stroke="#000" stroke-width="3.5"/>
<circle cx="1074.3" cy="804.2" r="6.5" fill="#536fb4" stroke="#000" stroke-width="3.5"/>
<circle cx="1089.3" cy="802.7" r="6.5" fill="#536fb4" stroke="#000" stroke-width="3.5"/>
<circle cx="1056.1" cy="809.9" r="6.5" fill="#536fb4" stroke="#000" stroke-width="3.5"/>
<circle cx="1066.6" cy="818.1" r="6.5" fill="#536fb4" stroke="#000" stroke-width="3.5"/>
<circle cx="1074.3" cy="823.3" r="6.5" fill="#536fb4" stroke="#000" stroke-width="3.5"/>
<circle cx="1060.9" cy="826.3" r="6.5" fill="#536fb4" stroke="#000" stroke-width="3.5"/>
<circle cx="1045.2" cy="829.3" r="6.5" fill="#536fb4" stroke="#000" stroke-width="3.5"/>
<circle cx="1047.8" cy="830.7" r="6.5" fill="#536fb4" stroke="#000" stroke-width="3.5"/>
<circle cx="1089.0" cy="833.3" r="6.5" fill="#536fb4" stroke="#000" stroke-width="3.5"/>
<circle cx="1099.0" cy="831.5" r="6.5" fill="#536fb4" stroke="#000" stroke-width="3.5"/>
<circle cx="1004.9" cy="837.5" r="6.5" fill="#536fb4" stroke="#000" stroke-width="3.5"/>
<circle cx="1014.3" cy="834.2" r="6.5" fill="#536fb4" stroke="#000" stroke-width="3.5"/>
<circle cx="1008.7" cy="854.6" r="6.5" fill="#536fb4" stroke="#000" stroke-width="3.5"/>
<circle cx="957.9" cy="861.3" r="6.5" fill="#536fb4" stroke="#000" stroke-width="3.5"/>
<circle cx="1025.4" cy="862.8" r="6.5" fill="#536fb4" stroke="#000" stroke-width="3.5"/>
<circle cx="1039.3" cy="845.7" r="6.5" fill="#536fb4" stroke="#000" stroke-width="3.5"/>
<circle cx="1047.2" cy="847.2" r="6.5" fill="#536fb4" stroke="#000" stroke-width="3.5"/>
<circle cx="1043.0" cy="853.1" r="6.5" fill="#536fb4" stroke="#000" stroke-width="3.5"/>
<circle cx="1052.2" cy="855.1" r="6.5" fill="#536fb4" stroke="#000" stroke-width="3.5"/>
<circle cx="1052.7" cy="870.3" r="6.5" fill="#536fb4" stroke="#000" stroke-width="3.5"/>
<circle cx="1091.5" cy="861.3" r="6.5" fill="#536fb4" stroke="#000" stroke-width="3.5"/>
<circle cx="1096.4" cy="856.1" r="6.5" fill="#536fb4" stroke="#000" stroke-width="3.5"/>
<circle cx="1122.1" cy="771.0" r="6.5" fill="#536fb4" stroke="#000" stroke-width="3.5"/>
<circle cx="1168.4" cy="764.6" r="6.5" fill="#536fb4" stroke="#000" stroke-width="3.5"/>
<circle cx="1180.0" cy="760.6" r="6.5" fill="#536fb4" stroke="#000" stroke-width="3.5"/>
<circle cx="1181.3" cy="769.6" r="6.5" fill="#536fb4" stroke="#000" stroke-width="3.5"/>
<circle cx="1176.3" cy="779.3" r="6.5" fill="#536fb4" stroke="#000" stroke-width="3.5"/>
<circle cx="1123.1" cy="790.4" r="6.5" fill="#536fb4" stroke="#000" stroke-width="3.5"/>
<circle cx="1129.1" cy="795.7" r="6.5" fill="#536fb4" stroke="#000" stroke-width="3.5"/>
<circle cx="1123.6" cy="801.3" r="6.5" fill="#536fb4" stroke="#000" stroke-width="3.5"/>
<circle cx="1142.2" cy="799.4" r="6.5" fill="#536fb4" stroke="#000" stroke-width="3.5"/>
<circle cx="1149.0" cy="790.4" r="6.5" fill="#536fb4" stroke="#000" stroke-width="3.5"/>
<circle cx="1155.4" cy="789.0" r="6.5" fill="#536fb4" stroke="#000" stroke-width="3.5"/>
<circle cx="1150.4" cy="801.6" r="6.5" fill="#536fb4" stroke="#000" stroke-width="3.5"/>
<circle cx="1169.9" cy="789.0" r="6.5" fill="#536fb4" stroke="#000" stroke-width="3.5"/>
<circle cx="1165.4" cy="801.6" r="6.5" fill="#536fb4" stroke="#000" stroke-width="3.5"/>
<circle cx="1177.3" cy="799.9" r="6.5" fill="#536fb4" stroke="#000" stroke-width="3.5"/>
<circle cx="1200.4" cy="797.2" r="6.5" fill="#536fb4" stroke="#000" stroke-width="3.5"/>
<circle cx="1197.0" cy="803.6" r="6.5" fill="#536fb4" stroke="#000" stroke-width="3.5"/>
<circle cx="1210.1" cy="806.1" r="6.5" fill="#536fb4" stroke="#000" stroke-width="3.5"/>
<circle cx="1125.8" cy="814.3" r="6.5" fill="#536fb4" stroke="#000" stroke-width="3.5"/>
<circle cx="1118.4" cy="825.2" r="6.5" fill="#536fb4" stroke="#000" stroke-width="3.5"/>
<circle cx="1141.5" cy="814.3" r="6.5" fill="#536fb4" stroke="#000" stroke-width="3.5"/>
<circle cx="1136.6" cy="822.8" r="6.5" fill="#536fb4" stroke="#000" stroke-width="3.5"/>
<circle cx="1152.7" cy="815.1" r="6.5" fill="#536fb4" stroke="#000" stroke-width="3.5"/>
<circle cx="1145.2" cy="828.5" r="6.5" fill="#536fb4" stroke="#000" stroke-width="3.5"/>
<circle cx="1170.6" cy="815.5" r="6.5" fill="#536fb4" stroke="#000" stroke-width="3.5"/>
<circle cx="1183.3" cy="813.1" r="6.5" fill="#536fb4" stroke="#000" stroke-width="3.5"/>
<circle cx="1188.8" cy="824.8" r="6.5" fill="#536fb4" stroke="#000" stroke-width="3.5"/>
<circle cx="1213.1" cy="819.6" r="6.5" fill="#536fb4" stroke="#000" stroke-width="3.5"/>
<circle cx="1102.7" cy="831.5" r="6.5" fill="#536fb4" stroke="#000" stroke-width="3.5"/>
<circle cx="1129.6" cy="836.7" r="6.5" fill="#536fb4" stroke="#000" stroke-width="3.5"/>
<circle cx="1123.6" cy="844.9" r="6.5" fill="#536fb4" stroke="#000" stroke-width="3.5"/>
<circle cx="1140.7" cy="839.7" r="6.5" fill="#536fb4" stroke="#000" stroke-width="3.5"/>
<circle cx="1143.0" cy="847.9" r="6.5" fill="#536fb4" stroke="#000" stroke-width="3.5"/>
<circle cx="1155.4" cy="843.9" r="6.5" fill="#536fb4" stroke="#000" stroke-width="3.5"/>
<circle cx="1168.4" cy="843.9" r="6.5" fill="#536fb4" stroke="#000" stroke-width="3.5"/>
<circle cx="1175.4" cy="847.9" r="6.5" fill="#536fb4" stroke="#000" stroke-width="3.5"/>
<circle cx="1187.0" cy="839.0" r="6.5" fill="#536fb4" stroke="#000" stroke-width="3.5"/>
<circle cx="1187.3" cy="849.4" r="6.5" fill="#536fb4" stroke="#000" stroke-width="3.5"/>
<circle cx="1199.0" cy="844.9" r="6.5" fill="#536fb4" stroke="#000" stroke-width="3.5"/>
<circle cx="1203.7" cy="843.4" r="6.5" fill="#536fb4" stroke="#000" stroke-width="3.5"/>
<circle cx="1210.6" cy="841.2" r="6.5" fill="#536fb4" stroke="#000" stroke-width="3.5"/>
<circle cx="1213.1" cy="834.0" r="6.5" fill="#536fb4" stroke="#000" stroke-width="3.5"/>
<circle cx="1222.5" cy="848.7" r="6.5" fill="#536fb4" stroke="#000" stroke-width="3.5"/>
<circle cx="1110.1" cy="850.6" r="6.5" fill="#536fb4" stroke="#000" stroke-width="3.5"/>
<circle cx="1130.0" cy="853.9" r="6.5" fill="#536fb4" stroke="#000" stroke-width="3.5"/>
<circle cx="1128.8" cy="866.6" r="6.5" fill="#536fb4" stroke="#000" stroke-width="3.5"/>
<circle cx="1147.0" cy="865.8" r="6.5" fill="#536fb4" stroke="#000" stroke-width="3.5"/>
<circle cx="1189.7" cy="877.8" r="6.5" fill="#536fb4" stroke="#000" stroke-width="3.5"/>
<circle cx="1241.2" cy="807.8" r="6.5" fill="#536fb4" stroke="#000" stroke-width="3.5"/>
<circle cx="1239.7" cy="804.3" r="6.5" fill="#536fb4" stroke="#000" stroke-width="3.5"/>
<circle cx="1256.9" cy="801.8" r="6.5" fill="#536fb4" stroke="#000" stroke-width="3.5"/>
<circle cx="1238.5" cy="818.2" r="6.5" fill="#536fb4" stroke="#000" stroke-width="3.5"/>
<circle cx="1284.5" cy="814.5" r="6.5" fill="#536fb4" stroke="#000" stroke-width="3.5"/>
<circle cx="1320.3" cy="813.4" r="6.5" fill="#536fb4" stroke="#000" stroke-width="3.5"/>
<circle cx="1256.6" cy="834.2" r="6.5" fill="#536fb4" stroke="#000" stroke-width="3.5"/>
<circle cx="1293.4" cy="829.0" r="6.5" fill="#536fb4" stroke="#000" stroke-width="3.5"/>
<circle cx="1327.3" cy="832.4" r="6.5" fill="#536fb4" stroke="#000" stroke-width="3.5"/>
<circle cx="1344.9" cy="831.6" r="6.5" fill="#536fb4" stroke="#000" stroke-width="3.5"/>
<circle cx="1343.4" cy="827.2" r="6.5" fill="#536fb4" stroke="#000" stroke-width="3.5"/>
<circle cx="1347.6" cy="840.6" r="6.5" fill="#536fb4" stroke="#000" stroke-width="3.5"/>
<circle cx="1251.6" cy="857.8" r="6.5" fill="#536fb4" stroke="#000" stroke-width="3.5"/>
<circle cx="1259.4" cy="853.7" r="6.5" fill="#536fb4" stroke="#000" stroke-width="3.5"/>
<circle cx="1268.1" cy="859.7" r="6.5" fill="#536fb4" stroke="#000" stroke-width="3.5"/>
<circle cx="1270.3" cy="869.7" r="6.5" fill="#536fb4" stroke="#000" stroke-width="3.5"/>
<circle cx="1277.5" cy="881.2" r="6.5" fill="#536fb4" stroke="#000" stroke-width="3.5"/>
<circle cx="1282.5" cy="886.1" r="6.5" fill="#536fb4" stroke="#000" stroke-width="3.5"/>
<circle cx="1306.9" cy="852.1" r="6.5" fill="#536fb4" stroke="#000" stroke-width="3.5"/>
<circle cx="1335.5" cy="861.5" r="6.5" fill="#536fb4" stroke="#000" stroke-width="3.5"/>
<text x="1430.70" y="593.32" font-size="46.58" textLength="26.45" lengthAdjust="spacingAndGlyphs">g</text>
<line x1="1564.1" y1="622.7" x2="1564.1" y2="986.8" stroke="#000" stroke-width="3.6" stroke-linecap="butt"/>
<line x1="1548.7" y1="986.8" x2="1564.1" y2="986.8" stroke="#000" stroke-width="3.6" stroke-linecap="butt"/>
<text x="1501.50" y="997.14" font-size="31.41">0.0</text>
<line x1="1548.7" y1="866.0" x2="1564.1" y2="866.0" stroke="#000" stroke-width="3.6" stroke-linecap="butt"/>
<text x="1501.50" y="876.37" font-size="31.41">0.5</text>
<line x1="1548.7" y1="745.3" x2="1564.1" y2="745.3" stroke="#000" stroke-width="3.6" stroke-linecap="butt"/>
<text x="1501.50" y="755.60" font-size="31.41">1.0</text>
<line x1="1548.7" y1="624.5" x2="1564.1" y2="624.5" stroke="#000" stroke-width="3.6" stroke-linecap="butt"/>
<text x="1500.89" y="634.83" font-size="31.86">1.5</text>
<line x1="1548.7" y1="986.8" x2="1828.1" y2="986.8" stroke="#000" stroke-width="3.6" stroke-linecap="butt"/>
<path d="M1583.0,985.2 V747.7 H1615.0 V985.2" fill="#fff" stroke="#000" stroke-width="3.5" stroke-linejoin="round"/>
<path d="M1635.8,985.2 V792.7 H1667.3 V985.2" fill="#a3cbfd" stroke="#000" stroke-width="3.5" stroke-linejoin="round"/>
<path d="M1723.3,985.2 V749.0 H1754.7 V985.2" fill="#fff" stroke="#000" stroke-width="3.5" stroke-linejoin="round"/>
<path d="M1775.9,985.2 V866.6 H1807.4 V985.2" fill="#a3cbfd" stroke="#000" stroke-width="3.5" stroke-linejoin="round"/>
<line x1="1599.0" y1="731.0" x2="1599.0" y2="763.5" stroke="#000" stroke-width="3.6" stroke-linecap="butt"/>
<line x1="1590.2" y1="731.0" x2="1607.8" y2="731.0" stroke="#000" stroke-width="3.6" stroke-linecap="butt"/>
<line x1="1590.2" y1="763.5" x2="1607.8" y2="763.5" stroke="#000" stroke-width="3.6" stroke-linecap="butt"/>
<line x1="1651.2" y1="779.9" x2="1651.2" y2="805.0" stroke="#000" stroke-width="3.6" stroke-linecap="butt"/>
<line x1="1642.6" y1="779.9" x2="1659.8" y2="779.9" stroke="#000" stroke-width="3.6" stroke-linecap="butt"/>
<line x1="1642.6" y1="805.0" x2="1659.8" y2="805.0" stroke="#000" stroke-width="3.6" stroke-linecap="butt"/>
<line x1="1739.0" y1="742.0" x2="1739.0" y2="756.0" stroke="#000" stroke-width="3.6" stroke-linecap="butt"/>
<line x1="1730.2" y1="742.0" x2="1747.8" y2="742.0" stroke="#000" stroke-width="3.6" stroke-linecap="butt"/>
<line x1="1730.2" y1="756.0" x2="1747.8" y2="756.0" stroke="#000" stroke-width="3.6" stroke-linecap="butt"/>
<line x1="1791.2" y1="850.0" x2="1791.2" y2="878.7" stroke="#000" stroke-width="3.6" stroke-linecap="butt"/>
<line x1="1782.4" y1="850.0" x2="1800.0" y2="850.0" stroke="#000" stroke-width="3.6" stroke-linecap="butt"/>
<line x1="1782.4" y1="878.7" x2="1800.0" y2="878.7" stroke="#000" stroke-width="3.6" stroke-linecap="butt"/>
<circle cx="1598.9" cy="702.4" r="7.1" fill="#536fb4" stroke="#000" stroke-width="3.35"/>
<circle cx="1598.9" cy="731.0" r="7.1" fill="#536fb4" stroke="#000" stroke-width="3.35"/>
<circle cx="1588.3" cy="776.7" r="7.1" fill="#536fb4" stroke="#000" stroke-width="3.35"/>
<circle cx="1608.9" cy="772.1" r="7.1" fill="#536fb4" stroke="#000" stroke-width="3.35"/>
<circle cx="1651.4" cy="757.5" r="7.1" fill="#536fb4" stroke="#000" stroke-width="3.35"/>
<circle cx="1651.4" cy="796.1" r="7.1" fill="#536fb4" stroke="#000" stroke-width="3.35"/>
<circle cx="1640.8" cy="805.8" r="7.1" fill="#536fb4" stroke="#000" stroke-width="3.35"/>
<circle cx="1661.7" cy="803.3" r="7.1" fill="#536fb4" stroke="#000" stroke-width="3.35"/>
<circle cx="1728.8" cy="730.9" r="7.1" fill="#536fb4" stroke="#000" stroke-width="3.35"/>
<circle cx="1749.5" cy="740.6" r="7.1" fill="#536fb4" stroke="#000" stroke-width="3.35"/>
<circle cx="1738.7" cy="742.6" r="7.1" fill="#536fb4" stroke="#000" stroke-width="3.35"/>
<circle cx="1738.7" cy="772.3" r="7.1" fill="#536fb4" stroke="#000" stroke-width="3.35"/>
<circle cx="1791.3" cy="825.2" r="7.1" fill="#536fb4" stroke="#000" stroke-width="3.35"/>
<circle cx="1791.3" cy="858.7" r="7.1" fill="#536fb4" stroke="#000" stroke-width="3.35"/>
<circle cx="1801.4" cy="883.0" r="7.1" fill="#536fb4" stroke="#000" stroke-width="3.35"/>
<circle cx="1781.1" cy="890.3" r="7.1" fill="#536fb4" stroke="#000" stroke-width="3.35"/>
<text x="1785.85" y="801.93" font-size="34.13" font-weight="bold">*</text>
<text x="1589.21" y="1021.80" font-size="29.80" font-weight="bold" textLength="73.15" lengthAdjust="spacingAndGlyphs">Liver</text>
<text x="1696.04" y="1021.28" font-size="29.63" font-weight="bold" textLength="139.03" lengthAdjust="spacingAndGlyphs">Lipid Raft</text>
<rect x="1573.0" y="608.0" width="21.7" height="21.7" fill="#fff" stroke="#000" stroke-width="3.6" rx="1.8"/>
<rect x="1571.8" y="646.8" width="21.4" height="21.4" fill="#a3cbfd" stroke="#000" stroke-width="3.6" rx="1.8"/>
<text x="1603.53" y="629.90" font-size="30.48" textLength="94.48" lengthAdjust="spacingAndGlyphs">Control</text>
<text x="1602.35" y="669.89" font-size="30.56" textLength="79.74" lengthAdjust="spacingAndGlyphs">ARSA</text>
<text x="1484.51" y="935.63" font-size="29.40" font-weight="bold" textLength="262.89" lengthAdjust="spacingAndGlyphs" transform="rotate(-90 1484.51 935.63)">PLA2 S505 /&#160; PLA2</text>
</svg>
</body></html>
